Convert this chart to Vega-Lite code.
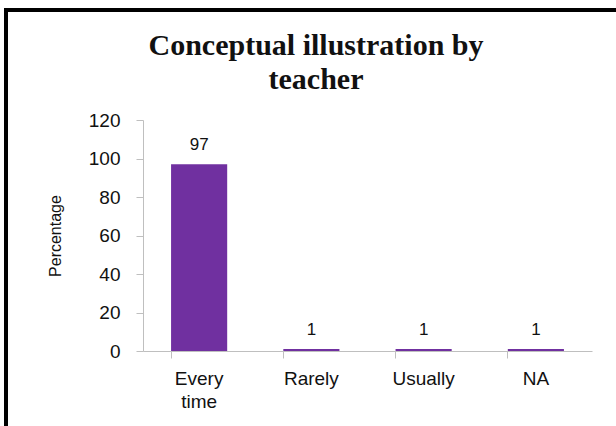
{
  "$schema": "https://vega.github.io/schema/vega-lite/v6.json",
  "autosize": "none",
  "width": 620,
  "height": 430,
  "padding": {"left": 6, "top": 10, "right": 0, "bottom": 0},
  "background": "white",
  "config": {
    "view": {"stroke": "black", "strokeWidth": 4},
    "axis": {"grid": false, "domainColor": "#bfbfbf", "tickColor": "#bfbfbf", "labelFont": "Liberation Sans", "labelColor": "#111", "titleFont": "Liberation Sans", "titleColor": "#111"}
  },
  "title": {
    "text": ["Conceptual illustration by", "teacher"],
    "font": "Liberation Serif",
    "fontSize": 30,
    "fontWeight": "bold",
    "color": "#111",
    "anchor": "middle",
    "baseline": "top",
    "lineHeight": 34,
    "offset": 0,
    "dy": 85
  },
  "data": {
    "values": [
      {"response": "Every time", "percentage": 97},
      {"response": "Rarely", "percentage": 1},
      {"response": "Usually", "percentage": 1},
      {"response": "NA", "percentage": 1}
    ]
  },
  "encoding": {
    "x": {
      "field": "response",
      "type": "nominal",
      "sort": null,
      "scale": {"range": [137, 586], "paddingInner": 0.5, "paddingOuter": 0.25},
      "axis": {
        "title": null,
        "labelAngle": 0,
        "offset": -89,
        "bandPosition": 0,
        "tickSize": 7,
        "labelPadding": 11,
        "labelFontSize": 19,
        "labelLineHeight": 23,
        "labelBaseline": "top",
        "labelExpr": "datum.value == 'Every time' ? ['Every', 'time'] : datum.label"
      }
    },
    "y": {
      "field": "percentage",
      "type": "quantitative",
      "scale": {"domain": [0, 120], "range": [341, 110], "nice": false},
      "axis": {
        "title": "Percentage",
        "values": [0, 20, 40, 60, 80, 100, 120],
        "offset": -137,
        "tickSize": 7,
        "labelPadding": 16,
        "labelFontSize": 19,
        "titleFontSize": 16,
        "titleFontWeight": "normal",
        "titlePadding": 25
      }
    }
  },
  "layer": [
    {"mark": {"type": "bar", "color": "#7030A0"}},
    {
      "mark": {"type": "text", "baseline": "bottom", "dy": -10, "font": "Liberation Sans", "fontSize": 17, "color": "#111"},
      "encoding": {"text": {"field": "percentage", "type": "quantitative"}}
    }
  ]
}
